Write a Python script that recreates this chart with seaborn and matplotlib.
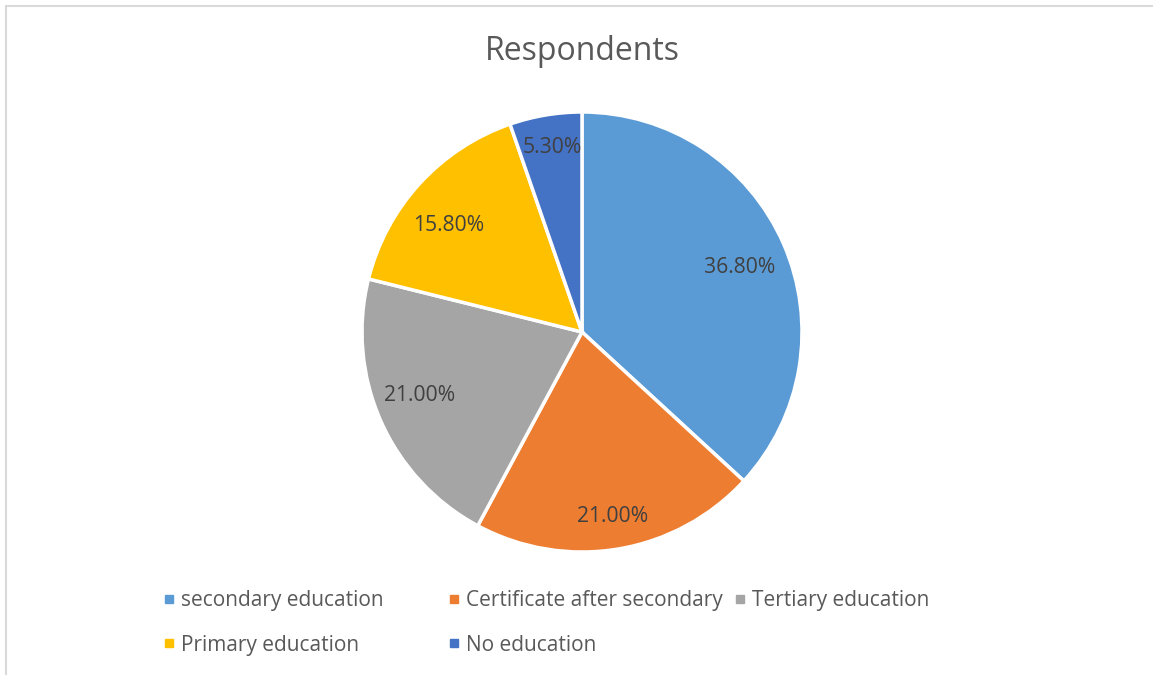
import numpy as np
import matplotlib
matplotlib.use("Agg")
import matplotlib.pyplot as plt
import seaborn as sns
from matplotlib.lines import Line2D

categories = ["secondary education", "Certificate after secondary", "Tertiary education",
              "Primary education", "No education"]
values = [36.8, 21.0, 21.0, 15.8, 5.3]
labels = ["36.80%", "21.00%", "21.00%", "15.80%", "5.30%"]
colors = ["#5B9BD5", "#ED7D31", "#A5A5A5", "#FFC000", "#4472C4"]
# label placement (fraction of radius, angle tweak in degrees)
label_dist = [0.78, 0.84, 0.79, 0.78, 0.86]
label_dang = [-0.8, 0.0, -3.2, 3.2, -0.5]

sns.set_theme(style="white")
plt.rcParams['font.family'] = ['Open Sans', 'DejaVu Sans']

fig = plt.figure(figsize=(11.53, 6.75), dpi=100)
W, H = 1153, 675
# pie axes: center (582,332), radius 220
cx, cy, r = 582, 332, 220
ax = fig.add_axes([(cx - r) / W, 1 - (cy + r) / H, 2 * r / W, 2 * r / H])
wedges, _ = ax.pie(values, colors=colors, startangle=90, counterclock=False,
                   wedgeprops=dict(edgecolor="white", linewidth=2.5), radius=1.0)
ax.set_xlim(-1, 1)
ax.set_ylim(-1, 1)
ax.set_aspect("equal")
for w, lab, d, da in zip(wedges, labels, label_dist, label_dang):
    ang = np.deg2rad((w.theta1 + w.theta2) / 2 + da)
    ax.text(d * np.cos(ang), d * np.sin(ang), lab, ha="center", va="center_baseline",
            fontsize=15.2, color="#404040")

fig.text(582 / W, 1 - 51 / H, "Respondents", ha="center", va="center",
         fontsize=23, color="#595959")

# frame lines (left and top)
fig.add_artist(Line2D([5.5 / W, 5.5 / W], [0, 1 - 6 / H], transform=fig.transFigure,
                      color="#D9D9D9", lw=1.5))
fig.add_artist(Line2D([5.5 / W, 1], [1 - 6 / H, 1 - 6 / H], transform=fig.transFigure,
                      color="#D9D9D9", lw=1.5))

# legend: three equal-width columns like the reference
columns = [[0, 3], [1, 4], [2]]
col_x = [162.5, 448.0, 733.5]
for idxs, x in zip(columns, col_x):
    handles = [Line2D([], [], marker="s", linestyle="none", markersize=6,
                      markerfacecolor=colors[i], markeredgecolor=colors[i]) for i in idxs]
    fig.legend(handles, [categories[i] for i in idxs], ncol=1,
               loc="upper left", bbox_to_anchor=(x / W, 1 - 590 / H),
               frameon=False, fontsize=15, labelcolor="#595959",
               handlelength=0.6, handletextpad=0.28, labelspacing=1.13,
               borderpad=0, borderaxespad=0)

fig.savefig("out.png", dpi=100)
